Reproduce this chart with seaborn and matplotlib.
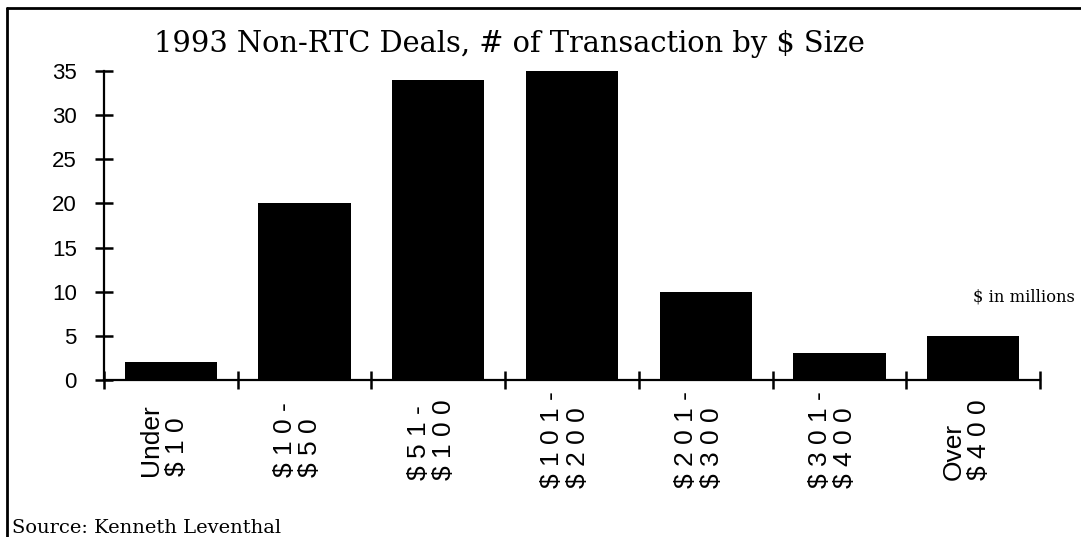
import numpy as np
import pandas as pd
import matplotlib
matplotlib.use("Agg")
import matplotlib.pyplot as plt
import matplotlib.transforms as mtransforms
import seaborn as sns
from matplotlib.lines import Line2D

# ── data ─────────────────────────────────────────────────────
size_bins = ["Under $10", "$10-$50", "$51-$100", "$101-$200",
             "$201-$300", "$301-$400", "Over $400"]
tick_labels = ["Under\n$ 1 0", "$ 1 0 -\n$ 5 0", "$ 5 1 -\n$ 1 0 0",
               "$ 1 0 1 -\n$ 2 0 0", "$ 2 0 1 -\n$ 3 0 0",
               "$ 3 0 1 -\n$ 4 0 0", "Over\n$ 4 0 0"]
n_deals = [2, 20, 34, 35, 10, 3, 5]
y_ticks = [0, 5, 10, 15, 20, 25, 30, 35]

df = pd.DataFrame({"size": size_bins, "deals": n_deals})

sns.set_theme(style="white")
plt.rcParams["font.family"] = ["Liberation Sans", "DejaVu Sans"]
plt.rcParams["text.color"] = "black"

fig = plt.figure(figsize=(10.81, 5.37), dpi=100)
ax = fig.add_axes([0.0962, 0.2924, 0.866, 0.592])

sns.barplot(data=df, x="size", y="deals", color="black", saturation=1,
            width=0.69, edgecolor="none", ax=ax)

ax.set_xlim(-0.5, len(size_bins) - 0.5)
ax.set_ylim(0, 36)
ax.set_xlabel("")
ax.set_ylabel("")

# spines
for side in ["top", "right"]:
    ax.spines[side].set_visible(False)
for side in ["left", "bottom"]:
    ax.spines[side].set_linewidth(1.6)
    ax.spines[side].set_color("black")
ax.spines["left"].set_bounds(0, 35)

# y ticks
ax.set_yticks(y_ticks)
ax.tick_params(axis="y", direction="inout", length=13, width=1.8,
               pad=13, labelsize=16, colors="black", left=True)

# x: labels at category centres, tick marks at category borders
ax.set_xticks(range(len(size_bins)))
ax.set_xticklabels(tick_labels, rotation=90, fontsize=19, va="center",
                   multialignment="left", linespacing=1.08)
ax.tick_params(axis="x", which="major", length=0, pad=43, colors="black")
ax.set_xticks(np.arange(-0.5, len(size_bins)), minor=True)
ax.tick_params(axis="x", which="minor", direction="inout", length=13,
               width=1.8, bottom=True, color="black")

# labels sit a little left of the bar centres in the original
shift = mtransforms.ScaledTranslation(-0.07, 0, fig.dpi_scale_trans)
for lab in ax.get_xticklabels():
    lab.set_transform(lab.get_transform() + shift)

# texts
fig.text(0.471, 0.903, "1993 Non-RTC Deals, # of Transaction by $ Size",
         ha="center", va="baseline", fontsize=20.8, family="DejaVu Serif",
         color="black")
fig.text(0.9945, 0.447, "$ in millions", ha="right", va="center",
         fontsize=11.8, family="DejaVu Serif", color="black")
fig.text(0.011, 0.007, "Source: Kenneth Leventhal", ha="left", va="baseline",
         fontsize=14, family="DejaVu Serif", color="black")

# page frame (top and left edge of the scanned box)
fig.add_artist(Line2D([0.0065, 1.0], [0.986, 0.986], color="black",
                      linewidth=2.0, transform=fig.transFigure))
fig.add_artist(Line2D([0.0065, 0.0065], [0.0, 0.986], color="black",
                      linewidth=2.0, transform=fig.transFigure))

fig.savefig("out.png", dpi=100, facecolor="white")
